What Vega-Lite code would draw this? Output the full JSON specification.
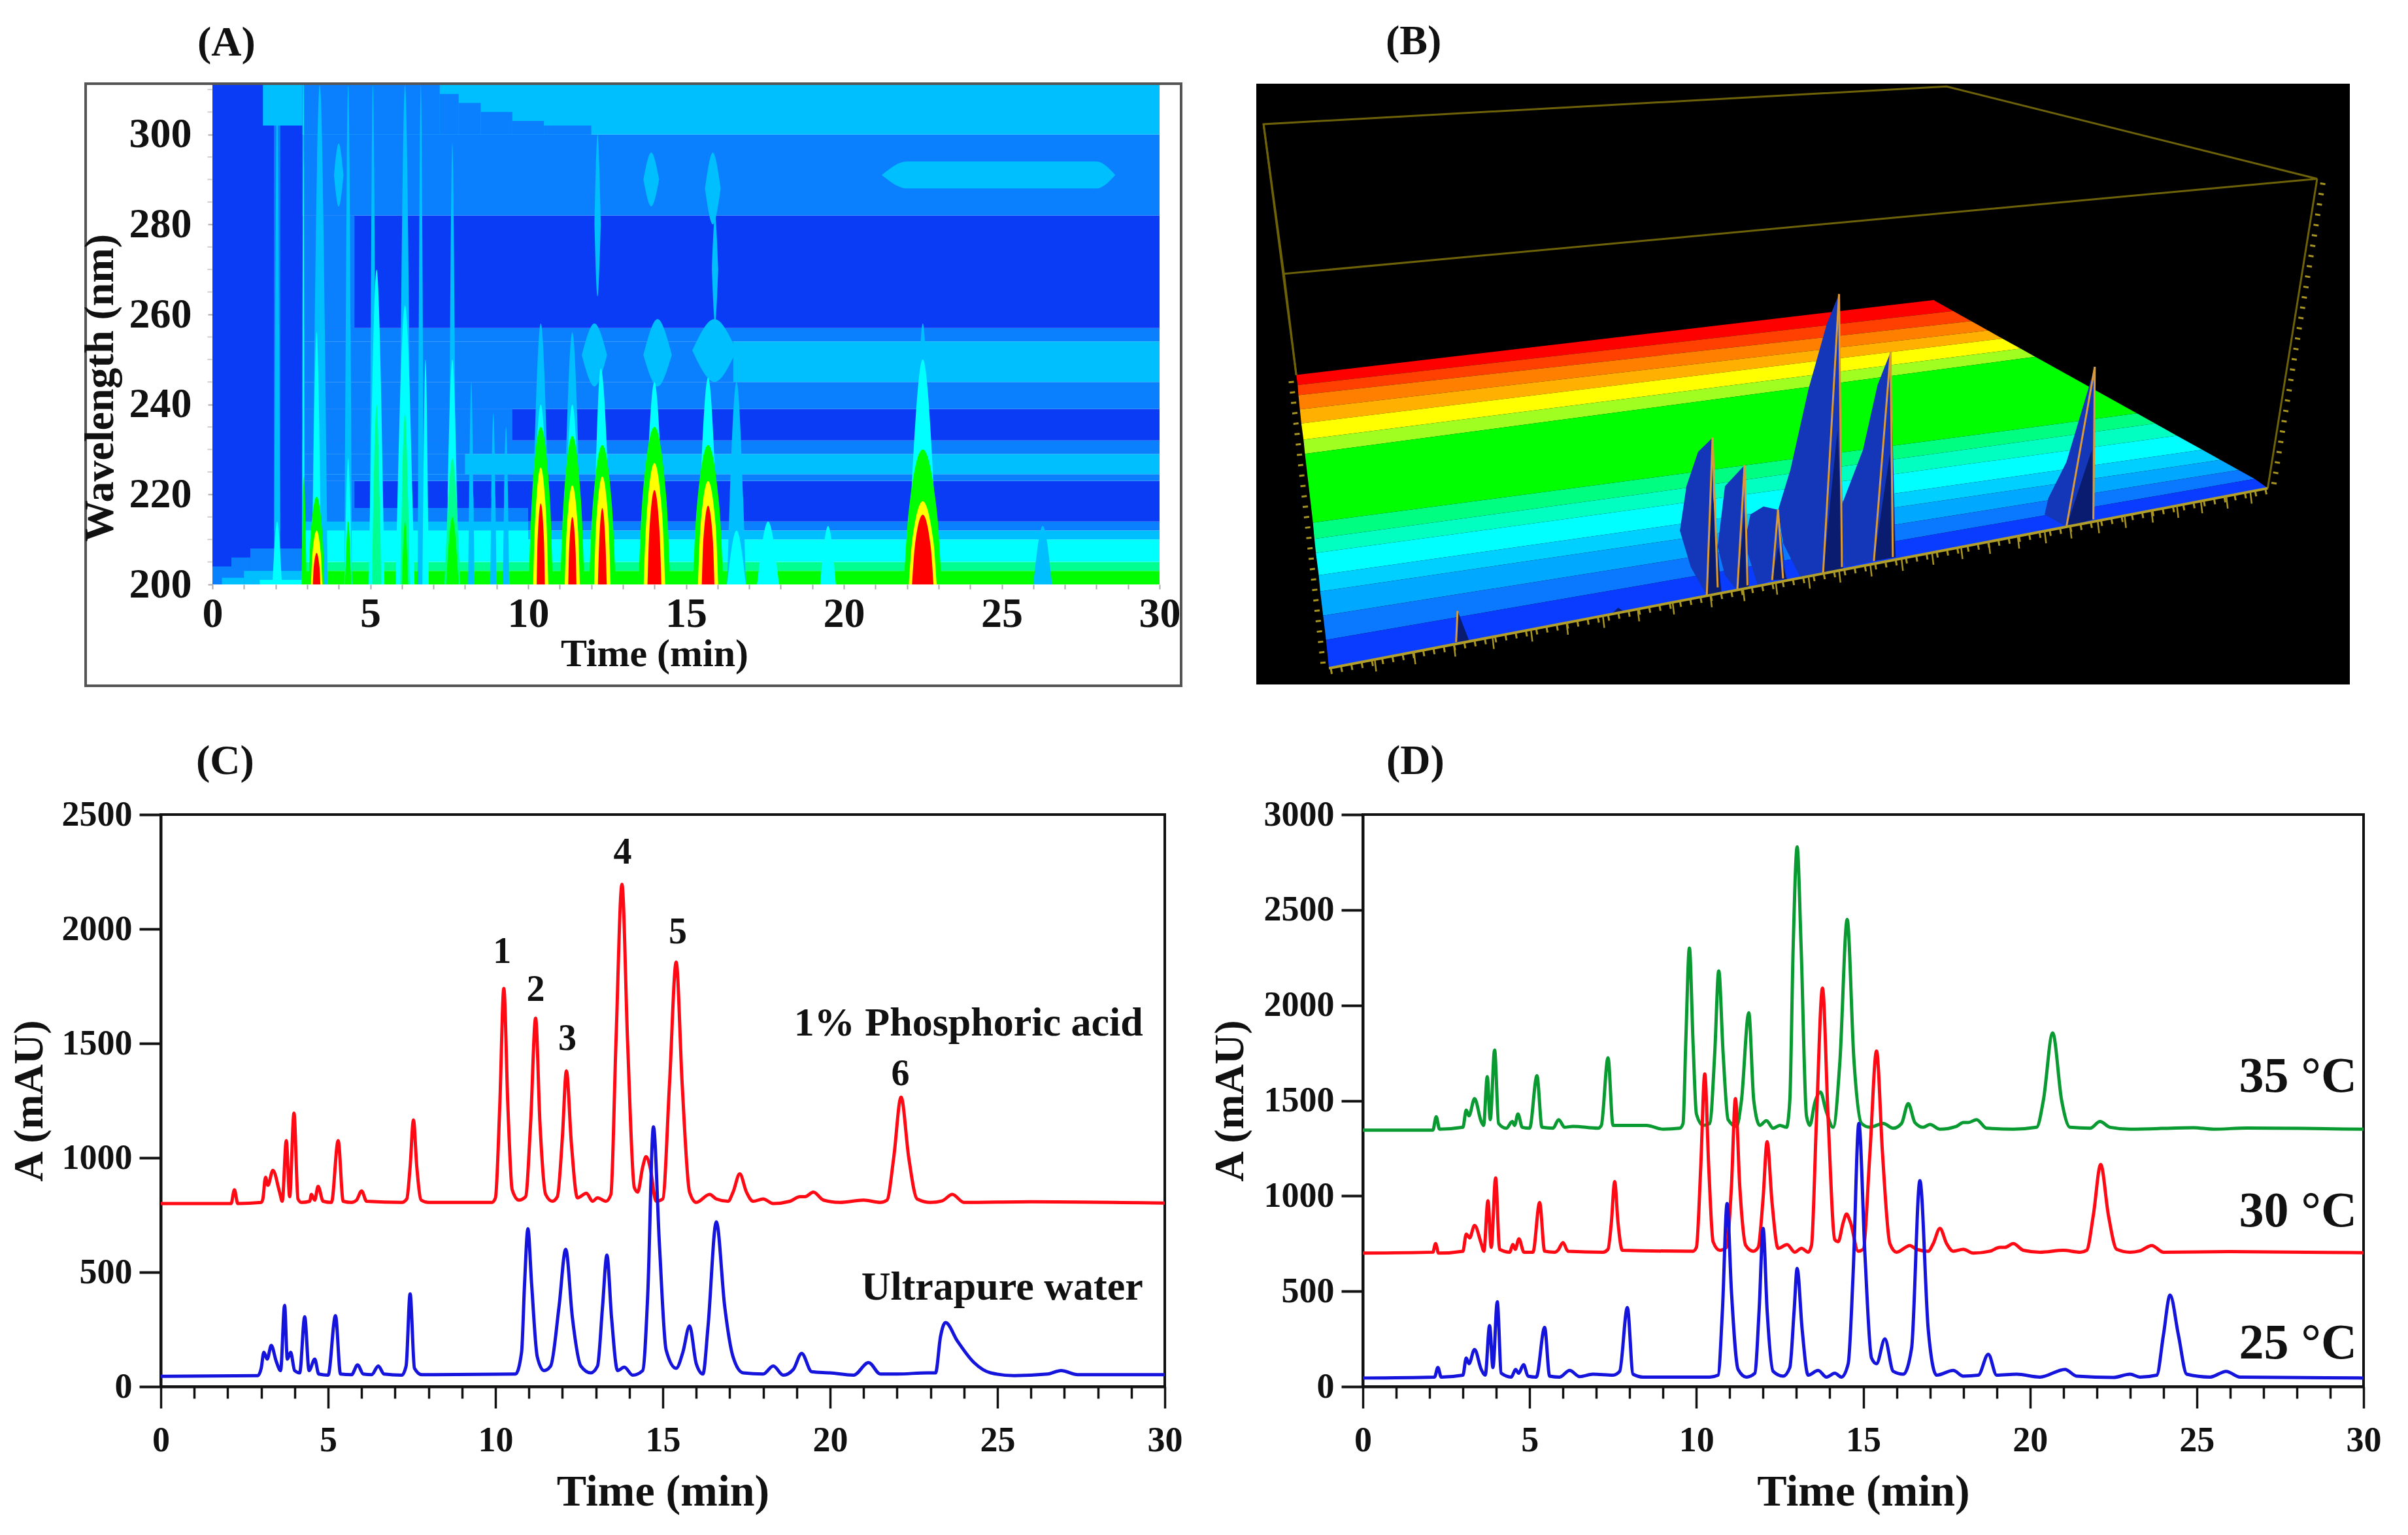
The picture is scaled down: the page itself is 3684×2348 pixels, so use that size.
{"$schema":"https://vega.github.io/schema/vega-lite/v6.json","background":"white","padding":{"left":11,"top":32,"right":0,"bottom":0},
"config":{"font":"Liberation Serif","axis":{"labelFont":"Liberation Serif","labelFontWeight":"bold","labelColor":"#111","titleFont":"Liberation Serif","titleFontWeight":"bold","titleColor":"#111","grid":false,"labelFlush":false},"title":{"font":"Liberation Serif","fontWeight":"bold","color":"#111","fontSize":64,"anchor":"start","frame":"group"}},
"datasets":{
"aMinor":[{"w":205},{"w":210},{"w":215},{"w":225},{"w":230},{"w":235},{"w":245},{"w":250},{"w":255},{"w":265},{"w":270},{"w":275},{"w":285},{"w":290},{"w":295},{"w":305},{"w":310}],
"aBands":[
{"t0":0,"t1":30,"w0":200,"w1":203,"l":5},{"t0":0,"t1":30,"w0":203,"w1":205,"l":4},{"t0":0,"t1":30,"w0":205,"w1":210,"l":3},{"t0":0,"t1":30,"w0":210,"w1":212,"l":2},{"t0":0,"t1":30,"w0":212,"w1":214,"l":1},{"t0":0,"t1":30,"w0":214,"w1":223,"l":0},{"t0":0,"t1":30,"w0":223,"w1":224.5,"l":1},{"t0":0,"t1":30,"w0":224.5,"w1":229,"l":2},{"t0":0,"t1":30,"w0":229,"w1":232,"l":1},{"t0":0,"t1":30,"w0":232,"w1":239,"l":0},{"t0":0,"t1":30,"w0":239,"w1":245,"l":1},{"t0":16.5,"t1":30,"w0":245,"w1":254,"l":2},{"t0":0,"t1":16.5,"w0":245,"w1":254,"l":1},{"t0":0,"t1":30,"w0":254,"w1":257,"l":1},{"t0":0,"t1":30,"w0":257,"w1":282,"l":0},{"t0":0,"t1":30,"w0":282,"w1":300,"l":1},{"t0":0,"t1":30,"w0":300,"w1":311,"l":2},
{"t0":2.9,"t1":4.5,"w0":214,"w1":223,"l":1},{"t0":2.9,"t1":9.5,"w0":232,"w1":239,"l":1},{"t0":2.9,"t1":4.5,"w0":257,"w1":282,"l":1},{"t0":2.9,"t1":8,"w0":224.5,"w1":229,"l":1},
{"t0":2.9,"t1":7.2,"w0":300,"w1":311,"l":1},{"t0":7.2,"t1":7.8,"w0":300,"w1":309,"l":1},{"t0":7.8,"t1":8.5,"w0":300,"w1":307,"l":1},{"t0":8.5,"t1":9.5,"w0":300,"w1":305,"l":1},{"t0":9.5,"t1":10.5,"w0":300,"w1":303,"l":1},{"t0":10.5,"t1":12,"w0":300,"w1":302,"l":1},
{"t0":2.9,"t1":10,"w0":214,"w1":217,"l":1},{"t0":2.9,"t1":10,"w0":212,"w1":214,"l":2},{"t0":2.9,"t1":10,"w0":208,"w1":212,"l":3},
{"t0":0,"t1":2.85,"w0":200,"w1":311,"l":0},{"t0":1.6,"t1":2.85,"w0":302,"w1":311,"l":2},{"t0":1.95,"t1":2.15,"w0":212,"w1":302,"l":1},
{"t0":0,"t1":0.6,"w0":200,"w1":204,"l":1},{"t0":0.6,"t1":1.2,"w0":200,"w1":206,"l":1},{"t0":1.2,"t1":2.85,"w0":200,"w1":208,"l":1},{"t0":0.3,"t1":1,"w0":200,"w1":201.5,"l":2},{"t0":1,"t1":2.85,"w0":200,"w1":203,"l":2},{"t0":1.5,"t1":2.85,"w0":200,"w1":201,"l":3}
],
"aContours":[
{"id":"s1","t":1.95,"y":200,"b":200,"l":2},{"id":"s1","t":2.05,"y":310,"b":200,"l":2},{"id":"s1","t":2.15,"y":200,"b":200,"l":2},
{"id":"s2","t":1.9,"y":200,"b":200,"l":3},{"id":"s2","t":2.05,"y":214,"b":200,"l":3},{"id":"s2","t":2.2,"y":200,"b":200,"l":3},
{"id":"s3","t":3.15,"y":200,"b":200,"l":2},{"id":"s3","t":3.4,"y":311,"b":200,"l":2},{"id":"s3","t":3.65,"y":200,"b":200,"l":2},
{"id":"s4","t":2.84,"y":200,"b":200,"l":3},{"id":"s4","t":2.88,"y":311,"b":200,"l":3},{"id":"s4","t":2.92,"y":200,"b":200,"l":3},
{"id":"s4b","t":2.82,"y":200,"b":200,"l":5},{"id":"s4b","t":2.9,"y":224,"b":200,"l":5},{"id":"s4b","t":2.98,"y":200,"b":200,"l":5},
{"id":"s6","t":4.18,"y":200,"b":200,"l":2},{"id":"s6","t":4.3,"y":311,"b":200,"l":2},{"id":"s6","t":4.42,"y":200,"b":200,"l":2},
{"id":"s7","t":4.18,"y":200,"b":200,"l":3},{"id":"s7","t":4.3,"y":228,"b":200,"l":3},{"id":"s7","t":4.42,"y":200,"b":200,"l":3},
{"id":"s7b","t":4.2,"y":200,"b":200,"l":5},{"id":"s7b","t":4.3,"y":214,"b":200,"l":5},{"id":"s7b","t":4.4,"y":200,"b":200,"l":5},
{"id":"s8","t":4.98,"y":200,"b":200,"l":2},{"id":"s8","t":5.08,"y":311,"b":200,"l":2},{"id":"s8","t":5.2,"y":200,"b":200,"l":2},
{"id":"s9","t":4.95,"y":200,"b":200,"l":3},{"id":"s9","t":5.2,"y":270,"b":200,"l":3},{"id":"s9","t":5.45,"y":200,"b":200,"l":3},
{"id":"s10","t":5.05,"y":200,"b":200,"l":4},{"id":"s10","t":5.2,"y":240,"b":200,"l":4},{"id":"s10","t":5.35,"y":200,"b":200,"l":4},
{"id":"s11","t":5.9,"y":200,"b":200,"l":2},{"id":"s11","t":6.1,"y":311,"b":200,"l":2},{"id":"s11","t":6.3,"y":200,"b":200,"l":2},
{"id":"s12","t":5.8,"y":200,"b":200,"l":3},{"id":"s12","t":6.1,"y":262,"b":200,"l":3},{"id":"s12","t":6.4,"y":200,"b":200,"l":3},
{"id":"s13","t":5.95,"y":200,"b":200,"l":4},{"id":"s13","t":6.1,"y":238,"b":200,"l":4},{"id":"s13","t":6.25,"y":200,"b":200,"l":4},
{"id":"s13b","t":6,"y":200,"b":200,"l":5},{"id":"s13b","t":6.1,"y":214,"b":200,"l":5},{"id":"s13b","t":6.2,"y":200,"b":200,"l":5},
{"id":"s14","t":6.5,"y":200,"b":200,"l":2},{"id":"s14","t":6.6,"y":311,"b":200,"l":2},{"id":"s14","t":6.7,"y":200,"b":200,"l":2},
{"id":"s15","t":6.65,"y":200,"b":200,"l":3},{"id":"s15","t":6.75,"y":250,"b":200,"l":3},{"id":"s15","t":6.85,"y":200,"b":200,"l":3},
{"id":"s16","t":7.48,"y":200,"b":200,"l":2},{"id":"s16","t":7.6,"y":298,"b":200,"l":2},{"id":"s16","t":7.72,"y":200,"b":200,"l":2},
{"id":"s17","t":7.4,"y":200,"b":200,"l":3},{"id":"s17","t":7.6,"y":250,"b":200,"l":3},{"id":"s17","t":7.8,"y":200,"b":200,"l":3},
{"id":"s18","t":7.35,"y":200,"b":200,"l":4},{"id":"s18","t":7.6,"y":228,"b":200,"l":4},{"id":"s18","t":7.85,"y":200,"b":200,"l":4},
{"id":"s19","t":7.4,"y":200,"b":200,"l":5},{"id":"s19","t":7.6,"y":215,"b":200,"l":5},{"id":"s19","t":7.8,"y":200,"b":200,"l":5},
{"id":"s20","t":8.1,"y":200,"b":200,"l":2},{"id":"s20","t":8.2,"y":245,"b":200,"l":2},{"id":"s20","t":8.3,"y":200,"b":200,"l":2},
{"id":"s21","t":8.8,"y":200,"b":200,"l":2},{"id":"s21","t":8.9,"y":238,"b":200,"l":2},{"id":"s21","t":9,"y":200,"b":200,"l":2},
{"id":"s22","t":9.2,"y":200,"b":200,"l":2},{"id":"s22","t":9.3,"y":235,"b":200,"l":2},{"id":"s22","t":9.4,"y":200,"b":200,"l":2},
{"id":"n1","t":3.85,"y":291,"b":291,"l":2},{"id":"n1","t":4,"y":298,"b":284,"l":2},{"id":"n1","t":4.15,"y":291,"b":291,"l":2},
{"id":"n2","t":13.65,"y":290,"b":290,"l":2},{"id":"n2","t":13.9,"y":296,"b":284,"l":2},{"id":"n2","t":14.15,"y":290,"b":290,"l":2},
{"id":"n3","t":15.6,"y":288,"b":288,"l":2},{"id":"n3","t":15.85,"y":296,"b":280,"l":2},{"id":"n3","t":16.1,"y":288,"b":288,"l":2},
{"id":"n4","t":12.1,"y":280,"b":280,"l":2},{"id":"n4","t":12.2,"y":300,"b":264,"l":2},{"id":"n4","t":12.3,"y":280,"b":280,"l":2},
{"id":"n5","t":15.82,"y":270,"b":270,"l":2},{"id":"n5","t":15.92,"y":282,"b":258,"l":2},{"id":"n5","t":16.02,"y":270,"b":270,"l":2},
{"id":"n6","t":21.2,"y":291,"b":291,"l":2},{"id":"n6","t":22,"y":294,"b":288,"l":2},{"id":"n6","t":28,"y":294,"b":288,"l":2},{"id":"n6","t":28.6,"y":291,"b":291,"l":2},
{"id":"n7","t":11.7,"y":251,"b":251,"l":2},{"id":"n7","t":12.1,"y":258,"b":244,"l":2},{"id":"n7","t":12.5,"y":251,"b":251,"l":2},
{"id":"n8","t":13.65,"y":251,"b":251,"l":2},{"id":"n8","t":14.1,"y":259,"b":244,"l":2},{"id":"n8","t":14.55,"y":251,"b":251,"l":2},
{"id":"n9","t":15.2,"y":252,"b":252,"l":2},{"id":"n9","t":15.9,"y":259,"b":245,"l":2},{"id":"n9","t":16.6,"y":252,"b":252,"l":2},
{"id":"n10","t":16.3,"y":200,"b":200,"l":2},{"id":"n10","t":16.6,"y":245,"b":200,"l":2},{"id":"n10","t":16.9,"y":200,"b":200,"l":2},
{"id":"n11","t":16.3,"y":200,"b":200,"l":3},{"id":"n11","t":16.6,"y":212,"b":200,"l":3},{"id":"n11","t":16.9,"y":200,"b":200,"l":3},
{"id":"n12","t":17.25,"y":200,"b":200,"l":3},{"id":"n12","t":17.6,"y":214,"b":200,"l":3},{"id":"n12","t":17.95,"y":200,"b":200,"l":3},
{"id":"n13","t":19.25,"y":200,"b":200,"l":3},{"id":"n13","t":19.5,"y":213,"b":200,"l":3},{"id":"n13","t":19.75,"y":200,"b":200,"l":3},
{"id":"n14","t":26,"y":200,"b":200,"l":2},{"id":"n14","t":26.3,"y":213,"b":200,"l":2},{"id":"n14","t":26.6,"y":200,"b":200,"l":2},
{"id":"p0a","t":3.15,"y":200,"b":200,"l":3},{"id":"p0a","t":3.3,"y":256,"b":200,"l":3},{"id":"p0a","t":3.45,"y":200,"b":200,"l":3},
{"id":"p0b","t":3.05,"y":200,"b":200,"l":5},{"id":"p0b","t":3.11,"y":211,"b":200,"l":5},{"id":"p0b","t":3.3,"y":219.5,"b":200,"l":5},{"id":"p0b","t":3.49,"y":211,"b":200,"l":5},{"id":"p0b","t":3.55,"y":200,"b":200,"l":5},
{"id":"p0c","t":3.12,"y":200,"b":200,"l":6},{"id":"p0c","t":3.17,"y":207,"b":200,"l":6},{"id":"p0c","t":3.3,"y":212,"b":200,"l":6},{"id":"p0c","t":3.43,"y":207,"b":200,"l":6},{"id":"p0c","t":3.48,"y":200,"b":200,"l":6},
{"id":"p0d","t":3.18,"y":200,"b":200,"l":7},{"id":"p0d","t":3.21,"y":204,"b":200,"l":7},{"id":"p0d","t":3.3,"y":207,"b":200,"l":7},{"id":"p0d","t":3.39,"y":204,"b":200,"l":7},{"id":"p0d","t":3.42,"y":200,"b":200,"l":7},
{"id":"p1a","t":10.1,"y":200,"b":200,"l":2},{"id":"p1a","t":10.4,"y":258,"b":200,"l":2},{"id":"p1a","t":10.7,"y":200,"b":200,"l":2},
{"id":"p1b","t":10.1,"y":200,"b":200,"l":3},{"id":"p1b","t":10.4,"y":240,"b":200,"l":3},{"id":"p1b","t":10.7,"y":200,"b":200,"l":3},
{"id":"p1c","t":10.02,"y":200,"b":200,"l":5},{"id":"p1c","t":10.12,"y":219,"b":200,"l":5},{"id":"p1c","t":10.4,"y":235,"b":200,"l":5},{"id":"p1c","t":10.69,"y":219,"b":200,"l":5},{"id":"p1c","t":10.78,"y":200,"b":200,"l":5},
{"id":"p1d","t":10.16,"y":200,"b":200,"l":6},{"id":"p1d","t":10.22,"y":214,"b":200,"l":6},{"id":"p1d","t":10.4,"y":226,"b":200,"l":6},{"id":"p1d","t":10.58,"y":214,"b":200,"l":6},{"id":"p1d","t":10.64,"y":200,"b":200,"l":6},
{"id":"p1e","t":10.27,"y":200,"b":200,"l":7},{"id":"p1e","t":10.3,"y":210,"b":200,"l":7},{"id":"p1e","t":10.4,"y":218,"b":200,"l":7},{"id":"p1e","t":10.5,"y":210,"b":200,"l":7},{"id":"p1e","t":10.53,"y":200,"b":200,"l":7},
{"id":"p2a","t":11.1,"y":200,"b":200,"l":2},{"id":"p2a","t":11.4,"y":256,"b":200,"l":2},{"id":"p2a","t":11.7,"y":200,"b":200,"l":2},
{"id":"p2b","t":11.1,"y":200,"b":200,"l":3},{"id":"p2b","t":11.4,"y":240,"b":200,"l":3},{"id":"p2b","t":11.7,"y":200,"b":200,"l":3},
{"id":"p2c","t":11.02,"y":200,"b":200,"l":5},{"id":"p2c","t":11.12,"y":218,"b":200,"l":5},{"id":"p2c","t":11.4,"y":233,"b":200,"l":5},{"id":"p2c","t":11.68,"y":218,"b":200,"l":5},{"id":"p2c","t":11.78,"y":200,"b":200,"l":5},
{"id":"p2d","t":11.16,"y":200,"b":200,"l":6},{"id":"p2d","t":11.22,"y":212,"b":200,"l":6},{"id":"p2d","t":11.4,"y":222,"b":200,"l":6},{"id":"p2d","t":11.58,"y":212,"b":200,"l":6},{"id":"p2d","t":11.64,"y":200,"b":200,"l":6},
{"id":"p2e","t":11.27,"y":200,"b":200,"l":7},{"id":"p2e","t":11.3,"y":208,"b":200,"l":7},{"id":"p2e","t":11.4,"y":215,"b":200,"l":7},{"id":"p2e","t":11.5,"y":208,"b":200,"l":7},{"id":"p2e","t":11.53,"y":200,"b":200,"l":7},
{"id":"p3a","t":12.05,"y":200,"b":200,"l":3},{"id":"p3a","t":12.3,"y":248,"b":200,"l":3},{"id":"p3a","t":12.65,"y":200,"b":200,"l":3},
{"id":"p3c","t":11.93,"y":200,"b":200,"l":5},{"id":"p3c","t":12.04,"y":217,"b":200,"l":5},{"id":"p3c","t":12.35,"y":231,"b":200,"l":5},{"id":"p3c","t":12.66,"y":217,"b":200,"l":5},{"id":"p3c","t":12.77,"y":200,"b":200,"l":5},
{"id":"p3d","t":12.09,"y":200,"b":200,"l":6},{"id":"p3d","t":12.15,"y":213,"b":200,"l":6},{"id":"p3d","t":12.35,"y":224,"b":200,"l":6},{"id":"p3d","t":12.55,"y":213,"b":200,"l":6},{"id":"p3d","t":12.61,"y":200,"b":200,"l":6},
{"id":"p3e","t":12.21,"y":200,"b":200,"l":7},{"id":"p3e","t":12.25,"y":209,"b":200,"l":7},{"id":"p3e","t":12.35,"y":217,"b":200,"l":7},{"id":"p3e","t":12.45,"y":209,"b":200,"l":7},{"id":"p3e","t":12.49,"y":200,"b":200,"l":7},
{"id":"p4a","t":13.65,"y":200,"b":200,"l":3},{"id":"p4a","t":14,"y":245,"b":200,"l":3},{"id":"p4a","t":14.35,"y":200,"b":200,"l":3},
{"id":"p4c","t":13.5,"y":200,"b":200,"l":5},{"id":"p4c","t":13.62,"y":219,"b":200,"l":5},{"id":"p4c","t":14,"y":235,"b":200,"l":5},{"id":"p4c","t":14.38,"y":219,"b":200,"l":5},{"id":"p4c","t":14.5,"y":200,"b":200,"l":5},
{"id":"p4d","t":13.66,"y":200,"b":200,"l":6},{"id":"p4d","t":13.75,"y":215,"b":200,"l":6},{"id":"p4d","t":14,"y":227,"b":200,"l":6},{"id":"p4d","t":14.25,"y":215,"b":200,"l":6},{"id":"p4d","t":14.34,"y":200,"b":200,"l":6},
{"id":"p4e","t":13.78,"y":200,"b":200,"l":7},{"id":"p4e","t":13.84,"y":212,"b":200,"l":7},{"id":"p4e","t":14,"y":221,"b":200,"l":7},{"id":"p4e","t":14.16,"y":212,"b":200,"l":7},{"id":"p4e","t":14.22,"y":200,"b":200,"l":7},
{"id":"p5a","t":15.35,"y":200,"b":200,"l":3},{"id":"p5a","t":15.7,"y":246,"b":200,"l":3},{"id":"p5a","t":16.05,"y":200,"b":200,"l":3},
{"id":"p5c","t":15.22,"y":200,"b":200,"l":5},{"id":"p5c","t":15.34,"y":217,"b":200,"l":5},{"id":"p5c","t":15.7,"y":231,"b":200,"l":5},{"id":"p5c","t":16.06,"y":217,"b":200,"l":5},{"id":"p5c","t":16.18,"y":200,"b":200,"l":5},
{"id":"p5d","t":15.38,"y":200,"b":200,"l":6},{"id":"p5d","t":15.46,"y":213,"b":200,"l":6},{"id":"p5d","t":15.7,"y":223,"b":200,"l":6},{"id":"p5d","t":15.94,"y":213,"b":200,"l":6},{"id":"p5d","t":16.02,"y":200,"b":200,"l":6},
{"id":"p5e","t":15.5,"y":200,"b":200,"l":7},{"id":"p5e","t":15.55,"y":210,"b":200,"l":7},{"id":"p5e","t":15.7,"y":217.5,"b":200,"l":7},{"id":"p5e","t":15.85,"y":210,"b":200,"l":7},{"id":"p5e","t":15.9,"y":200,"b":200,"l":7},
{"id":"p6a","t":22.2,"y":200,"b":200,"l":2},{"id":"p6a","t":22.5,"y":258,"b":200,"l":2},{"id":"p6a","t":22.8,"y":200,"b":200,"l":2},
{"id":"p6b","t":22,"y":200,"b":200,"l":3},{"id":"p6b","t":22.5,"y":250,"b":200,"l":3},{"id":"p6b","t":23,"y":200,"b":200,"l":3},
{"id":"p6c","t":21.9,"y":200,"b":200,"l":5},{"id":"p6c","t":22.05,"y":216,"b":200,"l":5},{"id":"p6c","t":22.5,"y":230,"b":200,"l":5},{"id":"p6c","t":22.95,"y":216,"b":200,"l":5},{"id":"p6c","t":23.1,"y":200,"b":200,"l":5},
{"id":"p6d","t":22.06,"y":200,"b":200,"l":6},{"id":"p6d","t":22.17,"y":210,"b":200,"l":6},{"id":"p6d","t":22.5,"y":218.5,"b":200,"l":6},{"id":"p6d","t":22.83,"y":210,"b":200,"l":6},{"id":"p6d","t":22.94,"y":200,"b":200,"l":6},
{"id":"p6e","t":22.16,"y":200,"b":200,"l":7},{"id":"p6e","t":22.25,"y":208.5,"b":200,"l":7},{"id":"p6e","t":22.5,"y":215.5,"b":200,"l":7},{"id":"p6e","t":22.75,"y":208.5,"b":200,"l":7},{"id":"p6e","t":22.84,"y":200,"b":200,"l":7}
],
"bFloor":[
{"id":"b01","o":1,"x":75,"y":765},{"id":"b01","o":2,"x":952,"y":580},{"id":"b01","o":3,"x":979,"y":607},{"id":"b01","o":4,"x":77,"y":790},
{"id":"b02","o":1,"x":77,"y":790},{"id":"b02","o":2,"x":979,"y":607},{"id":"b02","o":3,"x":1004,"y":632},{"id":"b02","o":4,"x":78,"y":815},
{"id":"b03","o":1,"x":78,"y":815},{"id":"b03","o":2,"x":1004,"y":632},{"id":"b03","o":3,"x":1027,"y":655},{"id":"b03","o":4,"x":80,"y":850},
{"id":"b04","o":1,"x":80,"y":850},{"id":"b04","o":2,"x":1027,"y":655},{"id":"b04","o":3,"x":1047,"y":675},{"id":"b04","o":4,"x":82,"y":885},
{"id":"b05","o":1,"x":82,"y":885},{"id":"b05","o":2,"x":1047,"y":675},{"id":"b05","o":3,"x":1072,"y":700},{"id":"b05","o":4,"x":85,"y":925},
{"id":"b06","o":1,"x":85,"y":925},{"id":"b06","o":2,"x":1072,"y":700},{"id":"b06","o":3,"x":1092,"y":720},{"id":"b06","o":4,"x":87,"y":960},
{"id":"b07","o":1,"x":87,"y":960},{"id":"b07","o":2,"x":1092,"y":720},{"id":"b07","o":3,"x":1232,"y":860},{"id":"b07","o":4,"x":98,"y":1130},
{"id":"b08","o":1,"x":98,"y":1130},{"id":"b08","o":2,"x":1232,"y":860},{"id":"b08","o":3,"x":1257,"y":885},{"id":"b08","o":4,"x":100,"y":1170},
{"id":"b09","o":1,"x":100,"y":1170},{"id":"b09","o":2,"x":1257,"y":885},{"id":"b09","o":3,"x":1287,"y":915},{"id":"b09","o":4,"x":102,"y":1205},
{"id":"b10","o":1,"x":102,"y":1205},{"id":"b10","o":2,"x":1287,"y":915},{"id":"b10","o":3,"x":1322,"y":950},{"id":"b10","o":4,"x":106,"y":1260},
{"id":"b11","o":1,"x":106,"y":1260},{"id":"b11","o":2,"x":1322,"y":950},{"id":"b11","o":3,"x":1347,"y":975},{"id":"b11","o":4,"x":108,"y":1300},
{"id":"b12","o":1,"x":108,"y":1300},{"id":"b12","o":2,"x":1347,"y":975},{"id":"b12","o":3,"x":1372,"y":1000},{"id":"b12","o":4,"x":112,"y":1360},
{"id":"b13","o":1,"x":112,"y":1360},{"id":"b13","o":2,"x":1372,"y":1000},{"id":"b13","o":3,"x":1394,"y":1022},{"id":"b13","o":4,"x":116,"y":1420},
{"id":"b14","o":1,"x":116,"y":1420},{"id":"b14","o":2,"x":1394,"y":1022},{"id":"b14","o":3,"x":1412,"y":1045},{"id":"b14","o":4,"x":120,"y":1490}
],
"bPeaks":[
{"id":"a","o":1,"x":648,"y":920},{"id":"a","o":2,"x":628,"y":955},{"id":"a","o":3,"x":612,"y":1040},{"id":"a","o":4,"x":603,"y":1150},{"id":"a","o":5,"x":618,"y":1240},{"id":"a","o":6,"x":640,"y":1310},{"id":"a","o":7,"x":660,"y":1300},{"id":"a","o":8,"x":650,"y":1250},
{"id":"b","o":1,"x":692,"y":988},{"id":"b","o":2,"x":665,"y":1040},{"id":"b","o":3,"x":655,"y":1190},{"id":"b","o":4,"x":665,"y":1260},{"id":"b","o":5,"x":682,"y":1298},{"id":"b","o":6,"x":698,"y":1290},
{"id":"c","o":1,"x":738,"y":1098},{"id":"c","o":2,"x":718,"y":1090},{"id":"c","o":3,"x":700,"y":1110},{"id":"c","o":4,"x":692,"y":1180},{"id":"c","o":5,"x":710,"y":1285},{"id":"c","o":6,"x":730,"y":1272},{"id":"c","o":7,"x":750,"y":1270},
{"id":"d","o":1,"x":822,"y":565},{"id":"d","o":2,"x":805,"y":640},{"id":"d","o":3,"x":780,"y":800},{"id":"d","o":4,"x":755,"y":1000},{"id":"d","o":5,"x":738,"y":1100},{"id":"d","o":6,"x":745,"y":1180},{"id":"d","o":7,"x":770,"y":1270},{"id":"d","o":8,"x":800,"y":1258},{"id":"d","o":9,"x":828,"y":1245},
{"id":"e","o":1,"x":893,"y":708},{"id":"e","o":2,"x":875,"y":790},{"id":"e","o":3,"x":855,"y":950},{"id":"e","o":4,"x":825,"y":1090},{"id":"e","o":5,"x":820,"y":1170},{"id":"e","o":6,"x":830,"y":1240},{"id":"e","o":7,"x":870,"y":1225},{"id":"e","o":8,"x":900,"y":1215},
{"id":"f","o":1,"x":1174,"y":745},{"id":"f","o":2,"x":1160,"y":830},{"id":"f","o":3,"x":1135,"y":980},{"id":"f","o":4,"x":1110,"y":1070},{"id":"f","o":5,"x":1105,"y":1110},{"id":"f","o":6,"x":1135,"y":1140},{"id":"f","o":7,"x":1172,"y":1122}
],
"bBlack":[
{"id":"a","o":1,"x":648,"y":1050},{"id":"a","o":2,"x":640,"y":1310},{"id":"a","o":3,"x":660,"y":1300},
{"id":"b","o":1,"x":692,"y":1100},{"id":"b","o":2,"x":682,"y":1298},{"id":"b","o":3,"x":698,"y":1290},
{"id":"c","o":1,"x":738,"y":1190},{"id":"c","o":2,"x":730,"y":1272},{"id":"c","o":3,"x":750,"y":1270},
{"id":"d","o":1,"x":820,"y":900},{"id":"d","o":2,"x":800,"y":1258},{"id":"d","o":3,"x":828,"y":1245},
{"id":"e","o":1,"x":892,"y":960},{"id":"e","o":2,"x":870,"y":1225},{"id":"e","o":3,"x":900,"y":1215},
{"id":"f","o":1,"x":1170,"y":950},{"id":"f","o":2,"x":1135,"y":1140},{"id":"f","o":3,"x":1172,"y":1122},
{"id":"g","o":1,"x":297,"y":1348},{"id":"g","o":2,"x":295,"y":1425},{"id":"g","o":3,"x":313,"y":1422},
{"id":"h","o":1,"x":518,"y":1340},{"id":"h","o":2,"x":508,"y":1357},{"id":"h","o":3,"x":528,"y":1352}
],
"bOrange":[
{"id":"a","o":1,"x":648,"y":920},{"id":"a","o":2,"x":640,"y":1310},{"id":"a2","o":1,"x":648,"y":920},{"id":"a2","o":2,"x":655,"y":1290},
{"id":"b","o":1,"x":692,"y":988},{"id":"b","o":2,"x":682,"y":1298},{"id":"b2","o":1,"x":692,"y":988},{"id":"b2","o":2,"x":696,"y":1285},
{"id":"c","o":1,"x":738,"y":1098},{"id":"c","o":2,"x":730,"y":1272},{"id":"c2","o":1,"x":738,"y":1098},{"id":"c2","o":2,"x":745,"y":1268},
{"id":"d","o":1,"x":822,"y":565},{"id":"d","o":2,"x":800,"y":1258},{"id":"d2","o":1,"x":822,"y":565},{"id":"d2","o":2,"x":826,"y":1240},
{"id":"e","o":1,"x":893,"y":708},{"id":"e","o":2,"x":870,"y":1225},{"id":"e2","o":1,"x":893,"y":708},{"id":"e2","o":2,"x":896,"y":1215},
{"id":"f","o":1,"x":1174,"y":745},{"id":"f","o":2,"x":1135,"y":1140},{"id":"f2","o":1,"x":1174,"y":745},{"id":"f2","o":2,"x":1172,"y":1122},
{"id":"g","o":1,"x":297,"y":1348},{"id":"g","o":2,"x":295,"y":1425}
],
"bBox":[
{"id":"t","o":1,"x":58,"y":515},{"id":"t","o":2,"x":30,"y":145},{"id":"t","o":3,"x":970,"y":52},{"id":"t","o":4,"x":1480,"y":280},{"id":"t","o":5,"x":58,"y":515},{"id":"t","o":6,"x":75,"y":765},
{"id":"l","o":1,"x":30,"y":145},{"id":"l","o":2,"x":75,"y":765},
{"id":"r","o":1,"x":1480,"y":280},{"id":"r","o":2,"x":1412,"y":1045}
],
"bEdge":[
{"id":"f","o":1,"x":120,"y":1490},{"id":"f","o":2,"x":1412,"y":1045}
],
"bTicks":[
{"id":"f","o":1,"x":122,"y":1498},{"id":"f","o":2,"x":1418,"y":1051},
{"id":"l","o":1,"x":68,"y":780},{"id":"l","o":2,"x":112,"y":1480},
{"id":"r","o":1,"x":1488,"y":290},{"id":"r","o":2,"x":1420,"y":1040}
],
"bMajor":[
{"id":"m1","o":1,"x":183,"y":1468},{"id":"m1","o":2,"x":185,"y":1498},{"id":"m2","o":1,"x":237,"y":1450},{"id":"m2","o":2,"x":239,"y":1480},{"id":"m3","o":1,"x":292,"y":1431},{"id":"m3","o":2,"x":294,"y":1461},{"id":"m4","o":1,"x":345,"y":1412},{"id":"m4","o":2,"x":347,"y":1442},{"id":"m5","o":1,"x":398,"y":1394},{"id":"m5","o":2,"x":400,"y":1424},{"id":"m6","o":1,"x":447,"y":1377},{"id":"m6","o":2,"x":449,"y":1407},{"id":"m7","o":1,"x":497,"y":1360},{"id":"m7","o":2,"x":499,"y":1390},{"id":"m8","o":1,"x":545,"y":1344},{"id":"m8","o":2,"x":547,"y":1374},{"id":"m9","o":1,"x":593,"y":1327},{"id":"m9","o":2,"x":595,"y":1357},{"id":"m10","o":1,"x":645,"y":1309},{"id":"m10","o":2,"x":647,"y":1339},{"id":"m11","o":1,"x":690,"y":1294},{"id":"m11","o":2,"x":692,"y":1324},{"id":"m12","o":1,"x":735,"y":1278},{"id":"m12","o":2,"x":737,"y":1308},{"id":"m13","o":1,"x":780,"y":1263},{"id":"m13","o":2,"x":782,"y":1293},{"id":"m14","o":1,"x":822,"y":1248},{"id":"m14","o":2,"x":824,"y":1278},{"id":"m15","o":1,"x":865,"y":1233},{"id":"m15","o":2,"x":867,"y":1263},{"id":"m16","o":1,"x":908,"y":1219},{"id":"m16","o":2,"x":910,"y":1249},{"id":"m17","o":1,"x":950,"y":1204},{"id":"m17","o":2,"x":952,"y":1234},{"id":"m18","o":1,"x":990,"y":1190},{"id":"m18","o":2,"x":992,"y":1220},{"id":"m19","o":1,"x":1028,"y":1177},{"id":"m19","o":2,"x":1030,"y":1207},{"id":"m20","o":1,"x":1068,"y":1164},{"id":"m20","o":2,"x":1070,"y":1194},{"id":"m21","o":1,"x":1105,"y":1151},{"id":"m21","o":2,"x":1107,"y":1181},{"id":"m22","o":1,"x":1140,"y":1139},{"id":"m22","o":2,"x":1142,"y":1169},{"id":"m23","o":1,"x":1178,"y":1126},{"id":"m23","o":2,"x":1180,"y":1156},{"id":"m24","o":1,"x":1215,"y":1113},{"id":"m24","o":2,"x":1217,"y":1143},{"id":"m25","o":1,"x":1252,"y":1100},{"id":"m25","o":2,"x":1254,"y":1130},{"id":"m26","o":1,"x":1287,"y":1088},{"id":"m26","o":2,"x":1289,"y":1118},{"id":"m27","o":1,"x":1320,"y":1077},{"id":"m27","o":2,"x":1322,"y":1107},{"id":"m28","o":1,"x":1355,"y":1065},{"id":"m28","o":2,"x":1357,"y":1095},{"id":"m29","o":1,"x":1388,"y":1053},{"id":"m29","o":2,"x":1390,"y":1083}
],
"cLines":[
{"s":"r","t":0,"a":800},{"s":"r","t":2.1,"a":800},{"s":"r","t":2.2,"a":860},{"s":"r","t":2.3,"a":800},{"s":"r","t":3,"a":805},{"s":"r","t":3.05,"a":820},{"s":"r","t":3.13,"a":915},{"s":"r","t":3.2,"a":880},{"s":"r","t":3.35,"a":945},{"s":"r","t":3.55,"a":850},{"s":"r","t":3.63,"a":810},{"s":"r","t":3.75,"a":1075},{"s":"r","t":3.85,"a":830},{"s":"r","t":3.98,"a":1195},{"s":"r","t":4.1,"a":820},{"s":"r","t":4.2,"a":805},{"s":"r","t":4.45,"a":810},{"s":"r","t":4.5,"a":840},{"s":"r","t":4.6,"a":815},{"s":"r","t":4.7,"a":875},{"s":"r","t":4.85,"a":810},{"s":"r","t":5.1,"a":805},{"s":"r","t":5.3,"a":1075},{"s":"r","t":5.45,"a":810},{"s":"r","t":5.7,"a":805},{"s":"r","t":5.85,"a":815},{"s":"r","t":6,"a":855},{"s":"r","t":6.15,"a":810},{"s":"r","t":7.2,"a":805},{"s":"r","t":7.35,"a":820},{"s":"r","t":7.45,"a":960},{"s":"r","t":7.55,"a":1165},{"s":"r","t":7.65,"a":960},{"s":"r","t":7.78,"a":815},{"s":"r","t":8,"a":805},{"s":"r","t":9.9,"a":805},{"s":"r","t":10,"a":825},{"s":"r","t":10.13,"a":1230},{"s":"r","t":10.25,"a":1740},{"s":"r","t":10.37,"a":1230},{"s":"r","t":10.5,"a":860},{"s":"r","t":10.7,"a":815},{"s":"r","t":10.9,"a":830},{"s":"r","t":11.05,"a":1150},{"s":"r","t":11.2,"a":1610},{"s":"r","t":11.33,"a":1150},{"s":"r","t":11.5,"a":840},{"s":"r","t":11.7,"a":810},{"s":"r","t":11.85,"a":830},{"s":"r","t":12,"a":1090},{"s":"r","t":12.12,"a":1380},{"s":"r","t":12.27,"a":1060},{"s":"r","t":12.45,"a":825},{"s":"r","t":12.72,"a":845},{"s":"r","t":12.9,"a":810},{"s":"r","t":13.05,"a":825},{"s":"r","t":13.3,"a":810},{"s":"r","t":13.45,"a":840},{"s":"r","t":13.6,"a":1500},{"s":"r","t":13.78,"a":2195},{"s":"r","t":13.95,"a":1500},{"s":"r","t":14.15,"a":870},{"s":"r","t":14.25,"a":850},{"s":"r","t":14.4,"a":960},{"s":"r","t":14.5,"a":1005},{"s":"r","t":14.62,"a":960},{"s":"r","t":14.8,"a":810},{"s":"r","t":15,"a":820},{"s":"r","t":15.2,"a":1320},{"s":"r","t":15.4,"a":1855},{"s":"r","t":15.58,"a":1320},{"s":"r","t":15.8,"a":850},{"s":"r","t":16,"a":805},{"s":"r","t":16.4,"a":840},{"s":"r","t":16.6,"a":820},{"s":"r","t":16.95,"a":810},{"s":"r","t":17.1,"a":850},{"s":"r","t":17.3,"a":930},{"s":"r","t":17.5,"a":850},{"s":"r","t":17.7,"a":810},{"s":"r","t":18,"a":820},{"s":"r","t":18.3,"a":800},{"s":"r","t":18.8,"a":810},{"s":"r","t":19.1,"a":830},{"s":"r","t":19.25,"a":830},{"s":"r","t":19.5,"a":850},{"s":"r","t":19.8,"a":815},{"s":"r","t":20.3,"a":805},{"s":"r","t":21,"a":815},{"s":"r","t":21.5,"a":805},{"s":"r","t":21.7,"a":815},{"s":"r","t":21.9,"a":1000},{"s":"r","t":22.12,"a":1265},{"s":"r","t":22.35,"a":1000},{"s":"r","t":22.6,"a":820},{"s":"r","t":23,"a":805},{"s":"r","t":23.35,"a":812},{"s":"r","t":23.65,"a":840},{"s":"r","t":24,"a":805},{"s":"r","t":26,"a":808},{"s":"r","t":30,"a":802},
{"s":"b","t":0,"a":45},{"s":"b","t":2.9,"a":48},{"s":"b","t":3,"a":80},{"s":"b","t":3.08,"a":150},{"s":"b","t":3.18,"a":120},{"s":"b","t":3.3,"a":180},{"s":"b","t":3.45,"a":110},{"s":"b","t":3.58,"a":70},{"s":"b","t":3.7,"a":355},{"s":"b","t":3.78,"a":120},{"s":"b","t":3.88,"a":150},{"s":"b","t":4,"a":70},{"s":"b","t":4.15,"a":60},{"s":"b","t":4.3,"a":305},{"s":"b","t":4.43,"a":70},{"s":"b","t":4.6,"a":120},{"s":"b","t":4.72,"a":55},{"s":"b","t":5,"a":50},{"s":"b","t":5.22,"a":310},{"s":"b","t":5.37,"a":55},{"s":"b","t":5.7,"a":52},{"s":"b","t":5.88,"a":95},{"s":"b","t":6.05,"a":55},{"s":"b","t":6.3,"a":52},{"s":"b","t":6.5,"a":90},{"s":"b","t":6.67,"a":55},{"s":"b","t":7.2,"a":50},{"s":"b","t":7.33,"a":90},{"s":"b","t":7.45,"a":405},{"s":"b","t":7.58,"a":80},{"s":"b","t":7.8,"a":52},{"s":"b","t":10.6,"a":55},{"s":"b","t":10.78,"a":150},{"s":"b","t":10.87,"a":450},{"s":"b","t":10.97,"a":690},{"s":"b","t":11.08,"a":450},{"s":"b","t":11.25,"a":130},{"s":"b","t":11.45,"a":70},{"s":"b","t":11.65,"a":90},{"s":"b","t":11.9,"a":350},{"s":"b","t":12.1,"a":600},{"s":"b","t":12.3,"a":300},{"s":"b","t":12.55,"a":90},{"s":"b","t":12.85,"a":60},{"s":"b","t":13.05,"a":90},{"s":"b","t":13.2,"a":350},{"s":"b","t":13.33,"a":575},{"s":"b","t":13.47,"a":300},{"s":"b","t":13.65,"a":70},{"s":"b","t":13.85,"a":85},{"s":"b","t":14.1,"a":50},{"s":"b","t":14.4,"a":70},{"s":"b","t":14.55,"a":400},{"s":"b","t":14.72,"a":1135},{"s":"b","t":14.9,"a":620},{"s":"b","t":15.1,"a":160},{"s":"b","t":15.4,"a":80},{"s":"b","t":15.6,"a":150},{"s":"b","t":15.8,"a":265},{"s":"b","t":16,"a":100},{"s":"b","t":16.2,"a":55},{"s":"b","t":16.35,"a":260},{"s":"b","t":16.6,"a":720},{"s":"b","t":16.85,"a":350},{"s":"b","t":17.1,"a":130},{"s":"b","t":17.4,"a":60},{"s":"b","t":18,"a":55},{"s":"b","t":18.3,"a":90},{"s":"b","t":18.6,"a":50},{"s":"b","t":18.9,"a":75},{"s":"b","t":19.15,"a":145},{"s":"b","t":19.45,"a":65},{"s":"b","t":20,"a":60},{"s":"b","t":20.7,"a":50},{"s":"b","t":21.15,"a":105},{"s":"b","t":21.5,"a":55},{"s":"b","t":22,"a":55},{"s":"b","t":22.9,"a":60},{"s":"b","t":23.15,"a":60},{"s":"b","t":23.3,"a":220},{"s":"b","t":23.45,"a":280},{"s":"b","t":23.8,"a":200},{"s":"b","t":24.3,"a":105},{"s":"b","t":24.8,"a":60},{"s":"b","t":25.5,"a":48},{"s":"b","t":26.5,"a":55},{"s":"b","t":26.9,"a":70},{"s":"b","t":27.4,"a":52},{"s":"b","t":30,"a":52}
],
"dLines":[
{"s":"g","t":0,"a":1345},{"s":"g","t":2.1,"a":1345},{"s":"g","t":2.2,"a":1415},{"s":"g","t":2.3,"a":1350},{"s":"g","t":3,"a":1360},{"s":"g","t":3.1,"a":1450},{"s":"g","t":3.18,"a":1420},{"s":"g","t":3.35,"a":1510},{"s":"g","t":3.55,"a":1390},{"s":"g","t":3.62,"a":1370},{"s":"g","t":3.73,"a":1625},{"s":"g","t":3.82,"a":1400},{"s":"g","t":3.95,"a":1765},{"s":"g","t":4.07,"a":1380},{"s":"g","t":4.3,"a":1355},{"s":"g","t":4.48,"a":1390},{"s":"g","t":4.55,"a":1370},{"s":"g","t":4.65,"a":1430},{"s":"g","t":4.78,"a":1360},{"s":"g","t":5,"a":1355},{"s":"g","t":5.22,"a":1630},{"s":"g","t":5.37,"a":1360},{"s":"g","t":5.7,"a":1355},{"s":"g","t":5.87,"a":1400},{"s":"g","t":6.05,"a":1360},{"s":"g","t":6.3,"a":1365},{"s":"g","t":7.05,"a":1355},{"s":"g","t":7.15,"a":1370},{"s":"g","t":7.35,"a":1725},{"s":"g","t":7.5,"a":1370},{"s":"g","t":7.7,"a":1370},{"s":"g","t":8.5,"a":1370},{"s":"g","t":9,"a":1350},{"s":"g","t":9.5,"a":1355},{"s":"g","t":9.6,"a":1380},{"s":"g","t":9.68,"a":1800},{"s":"g","t":9.79,"a":2300},{"s":"g","t":9.9,"a":1800},{"s":"g","t":10,"a":1430},{"s":"g","t":10.2,"a":1370},{"s":"g","t":10.4,"a":1380},{"s":"g","t":10.55,"a":1750},{"s":"g","t":10.67,"a":2180},{"s":"g","t":10.8,"a":1750},{"s":"g","t":10.95,"a":1400},{"s":"g","t":11.2,"a":1365},{"s":"g","t":11.35,"a":1500},{"s":"g","t":11.57,"a":1960},{"s":"g","t":11.72,"a":1500},{"s":"g","t":11.9,"a":1370},{"s":"g","t":12.1,"a":1395},{"s":"g","t":12.3,"a":1355},{"s":"g","t":12.5,"a":1370},{"s":"g","t":12.7,"a":1360},{"s":"g","t":12.8,"a":1500},{"s":"g","t":12.9,"a":2300},{"s":"g","t":13.02,"a":2830},{"s":"g","t":13.14,"a":2300},{"s":"g","t":13.3,"a":1420},{"s":"g","t":13.4,"a":1370},{"s":"g","t":13.55,"a":1490},{"s":"g","t":13.72,"a":1545},{"s":"g","t":13.88,"a":1450},{"s":"g","t":14.1,"a":1360},{"s":"g","t":14.3,"a":1700},{"s":"g","t":14.52,"a":2450},{"s":"g","t":14.72,"a":1720},{"s":"g","t":14.95,"a":1380},{"s":"g","t":15.2,"a":1360},{"s":"g","t":15.6,"a":1380},{"s":"g","t":15.9,"a":1355},{"s":"g","t":16.15,"a":1380},{"s":"g","t":16.35,"a":1485},{"s":"g","t":16.55,"a":1385},{"s":"g","t":16.8,"a":1360},{"s":"g","t":17,"a":1375},{"s":"g","t":17.3,"a":1350},{"s":"g","t":17.8,"a":1365},{"s":"g","t":18,"a":1385},{"s":"g","t":18.15,"a":1385},{"s":"g","t":18.4,"a":1400},{"s":"g","t":18.7,"a":1355},{"s":"g","t":19.5,"a":1350},{"s":"g","t":20.2,"a":1360},{"s":"g","t":20.4,"a":1500},{"s":"g","t":20.68,"a":1855},{"s":"g","t":20.95,"a":1500},{"s":"g","t":21.2,"a":1360},{"s":"g","t":21.8,"a":1355},{"s":"g","t":22.1,"a":1390},{"s":"g","t":22.4,"a":1360},{"s":"g","t":23,"a":1350},{"s":"g","t":24.9,"a":1358},{"s":"g","t":25.5,"a":1350},{"s":"g","t":26.5,"a":1356},{"s":"g","t":30,"a":1350},
{"s":"r","t":0,"a":700},{"s":"r","t":2.1,"a":705},{"s":"r","t":2.18,"a":750},{"s":"r","t":2.27,"a":700},{"s":"r","t":3,"a":710},{"s":"r","t":3.1,"a":800},{"s":"r","t":3.2,"a":780},{"s":"r","t":3.35,"a":845},{"s":"r","t":3.55,"a":750},{"s":"r","t":3.63,"a":710},{"s":"r","t":3.75,"a":975},{"s":"r","t":3.85,"a":730},{"s":"r","t":3.98,"a":1095},{"s":"r","t":4.1,"a":720},{"s":"r","t":4.4,"a":705},{"s":"r","t":4.5,"a":745},{"s":"r","t":4.57,"a":720},{"s":"r","t":4.68,"a":775},{"s":"r","t":4.83,"a":705},{"s":"r","t":5.1,"a":705},{"s":"r","t":5.3,"a":965},{"s":"r","t":5.45,"a":710},{"s":"r","t":5.75,"a":705},{"s":"r","t":5.85,"a":715},{"s":"r","t":6,"a":755},{"s":"r","t":6.15,"a":710},{"s":"r","t":7.2,"a":705},{"s":"r","t":7.35,"a":720},{"s":"r","t":7.45,"a":860},{"s":"r","t":7.55,"a":1075},{"s":"r","t":7.65,"a":860},{"s":"r","t":7.78,"a":715},{"s":"r","t":9.9,"a":710},{"s":"r","t":10,"a":730},{"s":"r","t":10.13,"a":1150},{"s":"r","t":10.25,"a":1640},{"s":"r","t":10.37,"a":1150},{"s":"r","t":10.5,"a":760},{"s":"r","t":10.7,"a":715},{"s":"r","t":10.9,"a":730},{"s":"r","t":11.05,"a":1050},{"s":"r","t":11.17,"a":1510},{"s":"r","t":11.3,"a":1050},{"s":"r","t":11.48,"a":740},{"s":"r","t":11.7,"a":710},{"s":"r","t":11.85,"a":730},{"s":"r","t":12,"a":990},{"s":"r","t":12.12,"a":1285},{"s":"r","t":12.27,"a":960},{"s":"r","t":12.45,"a":725},{"s":"r","t":12.72,"a":745},{"s":"r","t":12.95,"a":705},{"s":"r","t":13.15,"a":725},{"s":"r","t":13.35,"a":705},{"s":"r","t":13.45,"a":740},{"s":"r","t":13.6,"a":1400},{"s":"r","t":13.78,"a":2090},{"s":"r","t":13.95,"a":1400},{"s":"r","t":14.15,"a":770},{"s":"r","t":14.25,"a":760},{"s":"r","t":14.4,"a":860},{"s":"r","t":14.5,"a":905},{"s":"r","t":14.62,"a":860},{"s":"r","t":14.85,"a":710},{"s":"r","t":15,"a":720},{"s":"r","t":15.2,"a":1220},{"s":"r","t":15.4,"a":1760},{"s":"r","t":15.58,"a":1220},{"s":"r","t":15.8,"a":750},{"s":"r","t":16,"a":705},{"s":"r","t":16.4,"a":740},{"s":"r","t":16.6,"a":720},{"s":"r","t":16.95,"a":710},{"s":"r","t":17.1,"a":750},{"s":"r","t":17.3,"a":830},{"s":"r","t":17.5,"a":750},{"s":"r","t":17.7,"a":710},{"s":"r","t":18,"a":720},{"s":"r","t":18.3,"a":700},{"s":"r","t":18.8,"a":710},{"s":"r","t":19.1,"a":730},{"s":"r","t":19.25,"a":730},{"s":"r","t":19.5,"a":750},{"s":"r","t":19.8,"a":715},{"s":"r","t":20.3,"a":705},{"s":"r","t":21,"a":715},{"s":"r","t":21.5,"a":705},{"s":"r","t":21.7,"a":715},{"s":"r","t":21.9,"a":900},{"s":"r","t":22.12,"a":1165},{"s":"r","t":22.35,"a":900},{"s":"r","t":22.6,"a":720},{"s":"r","t":23,"a":705},{"s":"r","t":23.3,"a":712},{"s":"r","t":23.65,"a":740},{"s":"r","t":24,"a":705},{"s":"r","t":26,"a":708},{"s":"r","t":30,"a":702},
{"s":"b","t":0,"a":45},{"s":"b","t":2.15,"a":50},{"s":"b","t":2.25,"a":100},{"s":"b","t":2.35,"a":50},{"s":"b","t":3,"a":60},{"s":"b","t":3.1,"a":150},{"s":"b","t":3.18,"a":120},{"s":"b","t":3.35,"a":195},{"s":"b","t":3.55,"a":90},{"s":"b","t":3.67,"a":60},{"s":"b","t":3.8,"a":320},{"s":"b","t":3.9,"a":100},{"s":"b","t":4.03,"a":445},{"s":"b","t":4.15,"a":70},{"s":"b","t":4.45,"a":50},{"s":"b","t":4.58,"a":90},{"s":"b","t":4.67,"a":70},{"s":"b","t":4.82,"a":115},{"s":"b","t":4.95,"a":55},{"s":"b","t":5.2,"a":50},{"s":"b","t":5.45,"a":310},{"s":"b","t":5.6,"a":55},{"s":"b","t":5.9,"a":50},{"s":"b","t":6.2,"a":85},{"s":"b","t":6.5,"a":52},{"s":"b","t":6.9,"a":65},{"s":"b","t":7.5,"a":60},{"s":"b","t":7.7,"a":80},{"s":"b","t":7.93,"a":415},{"s":"b","t":8.1,"a":65},{"s":"b","t":8.4,"a":50},{"s":"b","t":10.4,"a":50},{"s":"b","t":10.65,"a":60},{"s":"b","t":10.78,"a":400},{"s":"b","t":10.92,"a":960},{"s":"b","t":11.05,"a":500},{"s":"b","t":11.25,"a":90},{"s":"b","t":11.5,"a":50},{"s":"b","t":11.75,"a":70},{"s":"b","t":11.88,"a":400},{"s":"b","t":12,"a":830},{"s":"b","t":12.12,"a":400},{"s":"b","t":12.3,"a":80},{"s":"b","t":12.6,"a":55},{"s":"b","t":12.8,"a":100},{"s":"b","t":12.93,"a":400},{"s":"b","t":13.02,"a":620},{"s":"b","t":13.17,"a":300},{"s":"b","t":13.35,"a":60},{"s":"b","t":13.65,"a":85},{"s":"b","t":13.9,"a":50},{"s":"b","t":14.15,"a":70},{"s":"b","t":14.35,"a":50},{"s":"b","t":14.55,"a":120},{"s":"b","t":14.7,"a":600},{"s":"b","t":14.87,"a":1380},{"s":"b","t":15.05,"a":700},{"s":"b","t":15.25,"a":150},{"s":"b","t":15.4,"a":120},{"s":"b","t":15.65,"a":250},{"s":"b","t":15.9,"a":80},{"s":"b","t":16.2,"a":65},{"s":"b","t":16.45,"a":200},{"s":"b","t":16.7,"a":1080},{"s":"b","t":16.95,"a":300},{"s":"b","t":17.2,"a":60},{"s":"b","t":17.7,"a":85},{"s":"b","t":18,"a":55},{"s":"b","t":18.45,"a":60},{"s":"b","t":18.75,"a":170},{"s":"b","t":19,"a":60},{"s":"b","t":19.6,"a":65},{"s":"b","t":20.3,"a":50},{"s":"b","t":21.05,"a":90},{"s":"b","t":21.4,"a":55},{"s":"b","t":22.5,"a":48},{"s":"b","t":23,"a":65},{"s":"b","t":23.3,"a":50},{"s":"b","t":23.8,"a":60},{"s":"b","t":24,"a":270},{"s":"b","t":24.2,"a":480},{"s":"b","t":24.45,"a":270},{"s":"b","t":24.7,"a":65},{"s":"b","t":25.4,"a":50},{"s":"b","t":25.88,"a":80},{"s":"b","t":26.3,"a":50},{"s":"b","t":30,"a":45}
]
},
"resolve":{"scale":{"color":"independent","fill":"independent"}},
"vconcat":[
{"resolve":{"scale":{"color":"independent","fill":"independent"}},"hconcat":[
{"width":1676,"height":921,"title":{"text":"(A)","dx":171,"offset":30},"view":{"stroke":"#555","strokeWidth":4},
 "layer":[
 {"data":{"name":"aBands"},"mark":{"type":"rect"},"encoding":{"x":{"field":"t0","type":"quantitative","scale":{"domain":[0,30],"range":[194,1643],"nice":false},"axis":{"values":[0,1,2,3,4,5,6,7,8,9,10,11,12,13,14,15,16,17,18,19,20,21,22,23,24,25,26,27,28,29,30],"labelExpr":"datum.value % 5 === 0 ? datum.label : ''","offset":-155,"domain":false,"tickColor":"#aaa","tickSize":7,"tickWidth":2,"labelFontSize":64,"labelPadding":6,"title":"Time (min)","titleFontSize":60,"titlePadding":0,"titleX":870,"labelOverlap":false}},"x2":{"field":"t1"},"y":{"field":"w0","type":"quantitative","scale":{"domain":[200,311],"range":[766,2],"nice":false},"axis":{"values":[200,220,240,260,280,300],"offset":-194,"domain":false,"tickColor":"#aaa","tickSize":7,"tickWidth":2,"labelFontSize":64,"labelPadding":25,"title":"Wavelength (nm)","titleFontSize":64,"titlePadding":12,"titleY":465,"labelOverlap":false}},"y2":{"field":"w1"},"fill":{"field":"l","type":"ordinal","scale":{"domain":[0,1,2,3,4,5,6,7],"range":["#0a3cf5","#0a80ff","#00bfff","#00ffff","#00ff90","#00ff00","#ffff00","#ff0000"]},"legend":null}}},
 {"data":{"name":"aContours"},"mark":{"type":"area","interpolate":"monotone"},"encoding":{"x":{"field":"t","type":"quantitative"},"y":{"field":"y","type":"quantitative","stack":null},"y2":{"field":"b"},"fill":{"field":"l","type":"ordinal","legend":null},"detail":{"field":"id"}}},
 {"data":{"name":"aMinor"},"mark":{"type":"tick","orient":"horizontal","color":"#bbb","size":7,"thickness":2,"xOffset":-4},"encoding":{"y":{"field":"w","type":"quantitative"},"x":{"datum":0}}}
 ]},
{"width":1673,"height":919,"title":{"text":"(B)","dx":198,"offset":30},"view":{"fill":"#000","stroke":null},
 "encoding":{"x":{"field":"x","type":"quantitative","scale":{"domain":[20,1525],"nice":false},"axis":null},"y":{"field":"y","type":"quantitative","scale":{"domain":[1530,45],"nice":false},"axis":null},"order":{"field":"o"},"detail":{"field":"id"}},
 "layer":[
 {"data":{"name":"bFloor"},"mark":{"type":"line","stroke":null},"encoding":{"fill":{"field":"id","type":"nominal","scale":{"domain":["b01","b02","b03","b04","b05","b06","b07","b08","b09","b10","b11","b12","b13","b14"],"range":["#ff0000","#ff4000","#ff8000","#ffb000","#ffff00","#a0ff20","#00ff00","#00ff80","#00ffc0","#00ffff","#00d0ff","#00a8ff","#0a78ff","#0a3cff"]},"legend":null}}},
 {"data":{"name":"bPeaks"},"mark":{"type":"line","stroke":null,"fill":"#1436b8"}},
 {"data":{"name":"bBlack"},"mark":{"type":"line","stroke":null,"fill":"#0a1c70"}},
 {"data":{"name":"bOrange"},"mark":{"type":"line","stroke":"#d89a3a","strokeWidth":3}},
 {"data":{"name":"bBox"},"mark":{"type":"line","stroke":"#6e6208","strokeWidth":3}},
 {"data":{"name":"bEdge"},"mark":{"type":"line","stroke":"#b3a02a","strokeWidth":4}},
 {"data":{"name":"bTicks"},"mark":{"type":"line","stroke":"#a89520","strokeWidth":8,"strokeDash":[3,13]}},
 {"data":{"name":"bMajor"},"mark":{"type":"line","stroke":"#a89520","strokeWidth":2.5}}
 ]},
 {"width":1,"height":1,"data":{"values":[{"a":0}]},"mark":{"type":"point","opacity":0},"view":{"stroke":null}}
 ],"spacing":115,"bounds":"flush"},
{"resolve":{"scale":{"color":"independent","fill":"independent"}},"hconcat":[
 {"width":1,"height":1,"data":{"values":[{"a":0}]},"mark":{"type":"point","opacity":0},"view":{"stroke":null}},
{"width":1536,"height":875,"title":{"text":"(C)","dx":54,"offset":22},"view":{"stroke":"#111","strokeWidth":4},
 "layer":[
 {"data":{"name":"cLines"},"mark":{"type":"line","interpolate":"monotone","strokeWidth":5},"encoding":{"x":{"field":"t","type":"quantitative","scale":{"domain":[0,30],"nice":false},"axis":{"values":[0,1,2,3,4,5,6,7,8,9,10,11,12,13,14,15,16,17,18,19,20,21,22,23,24,25,26,27,28,29,30],"labelExpr":"datum.value % 5 === 0 ? datum.label : ''","domainWidth":4,"domainColor":"#111","tickColor":"#111","tickWidth":3.5,"tickSize":{"condition":{"test":"datum.value % 5 === 0","value":33},"value":18},"labelFontSize":54,"labelPadding":22,"title":"Time (min)","titleFontSize":68,"titlePadding":18,"labelOverlap":false}},"y":{"field":"a","type":"quantitative","scale":{"domain":[0,2500],"nice":false},"axis":{"values":[0,500,1000,1500,2000,2500],"format":"d","domainWidth":4,"domainColor":"#111","tickColor":"#111","tickWidth":4,"tickSize":33,"labelFontSize":54,"labelPadding":11,"title":"A (mAU)","titleFontSize":64,"titlePadding":17}},"color":{"field":"s","type":"nominal","scale":{"domain":["r","b"],"range":["#ff0a14","#1414dc"]},"legend":null},"order":{"field":"t"}}},
 {"data":{"values":[{"t":10.2,"a":1900,"x":"1"},{"t":11.2,"a":1733,"x":"2"},{"t":12.15,"a":1520,"x":"3"},{"t":13.8,"a":2335,"x":"4"},{"t":15.45,"a":1985,"x":"5"},{"t":22.1,"a":1365,"x":"6"}]},"mark":{"type":"text","fontSize":56,"fontWeight":"bold","font":"Liberation Serif","color":"#111"},"encoding":{"x":{"field":"t","type":"quantitative"},"y":{"field":"a","type":"quantitative"},"text":{"field":"x"}}},
 {"data":{"values":[{"t":29.35,"a":1590,"x":"1% Phosphoric acid"},{"t":29.35,"a":433,"x":"Ultrapure water"}]},"mark":{"type":"text","align":"right","fontSize":62,"fontWeight":"bold","font":"Liberation Serif","color":"#111"},"encoding":{"x":{"field":"t","type":"quantitative"},"y":{"field":"a","type":"quantitative"},"text":{"field":"x"}}}
 ]},
 {"width":75,"height":1,"data":{"values":[{"a":0}]},"mark":{"type":"point","opacity":0},"view":{"stroke":null}},
{"width":1531,"height":875,"title":{"text":"(D)","dx":36,"offset":22},"view":{"stroke":"#111","strokeWidth":4},
 "layer":[
 {"data":{"name":"dLines"},"mark":{"type":"line","interpolate":"monotone","strokeWidth":5},"encoding":{"x":{"field":"t","type":"quantitative","scale":{"domain":[0,30],"nice":false},"axis":{"values":[0,1,2,3,4,5,6,7,8,9,10,11,12,13,14,15,16,17,18,19,20,21,22,23,24,25,26,27,28,29,30],"labelExpr":"datum.value % 5 === 0 ? datum.label : ''","domainWidth":4,"domainColor":"#111","tickColor":"#111","tickWidth":3.5,"tickSize":{"condition":{"test":"datum.value % 5 === 0","value":33},"value":18},"labelFontSize":54,"labelPadding":22,"title":"Time (min)","titleFontSize":68,"titlePadding":18,"labelOverlap":false}},"y":{"field":"a","type":"quantitative","scale":{"domain":[0,3000],"nice":false},"axis":{"values":[0,500,1000,1500,2000,2500,3000],"format":"d","domainWidth":4,"domainColor":"#111","tickColor":"#111","tickWidth":4,"tickSize":33,"labelFontSize":54,"labelPadding":11,"title":"A (mAU)","titleFontSize":64,"titlePadding":19}},"color":{"field":"s","type":"nominal","scale":{"domain":["g","r","b"],"range":["#0a9a32","#ff0a14","#1414dc"]},"legend":null},"order":{"field":"t"}}},
 {"data":{"values":[{"t":29.8,"a":1624,"x":"35 °C"},{"t":29.8,"a":918,"x":"30 °C"},{"t":29.8,"a":226,"x":"25 °C"}]},"mark":{"type":"text","align":"right","fontSize":76,"fontWeight":"bold","font":"Liberation Serif","color":"#111"},"encoding":{"x":{"field":"t","type":"quantitative"},"y":{"field":"a","type":"quantitative"},"text":{"field":"x"}}}
 ]}
 ],"spacing":114,"bounds":"flush"}
],"spacing":1118,"bounds":"flush"}
